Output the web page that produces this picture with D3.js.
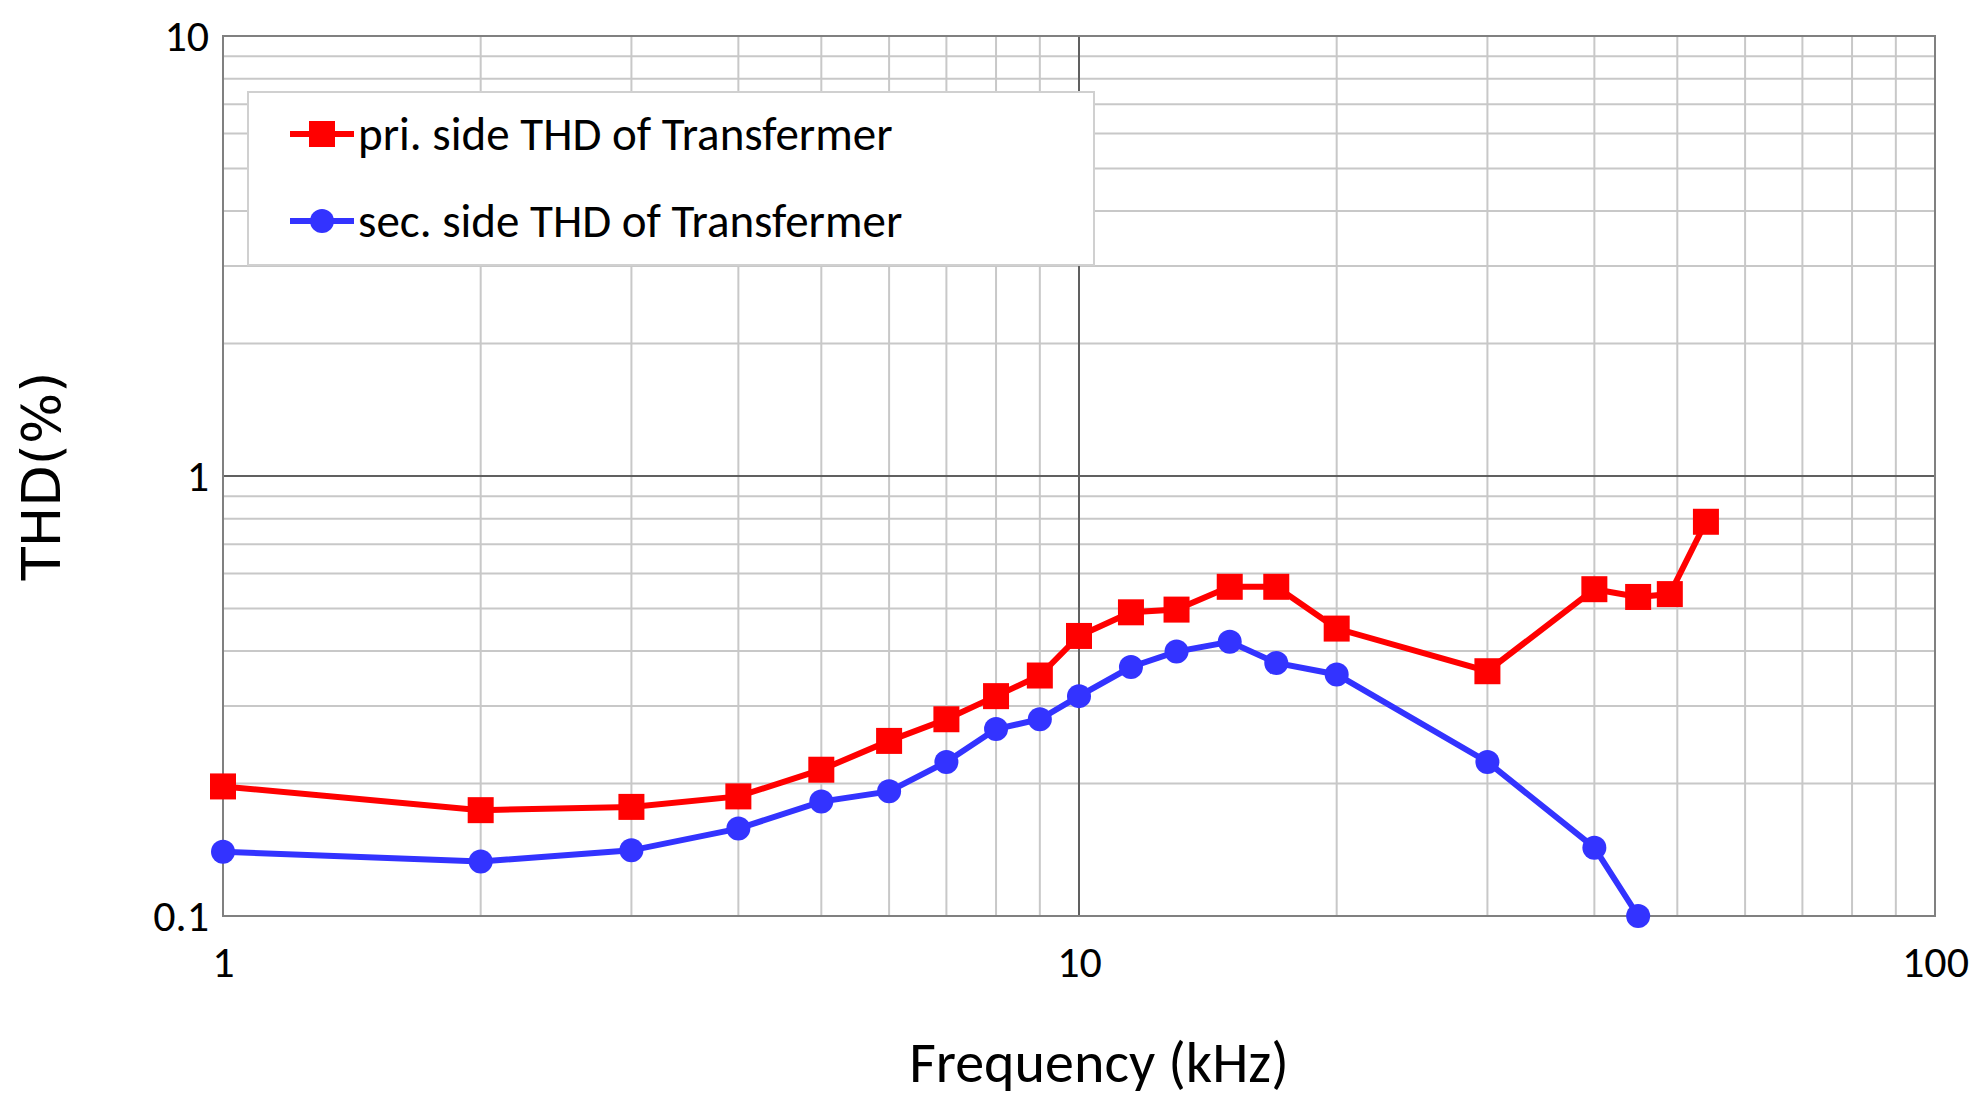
<!DOCTYPE html>
<html><head><meta charset="utf-8">
<script src="https://cdn.jsdelivr.net/npm/d3@7"></script>
<style>body{margin:0;background:#fff}text{font-family:Calibri,Carlito,"Open Sans",sans-serif}</style>
</head><body>
<svg id="chart" width="1984" height="1115"></svg>
<script>
const freqPri = [1, 2, 3, 4, 5, 6, 7, 8, 9, 10, 11.5, 13, 15, 17, 20, 30, 40, 45, 49, 54];
const thdPri = [0.197, 0.174, 0.177, 0.187, 0.215, 0.25, 0.28, 0.316, 0.352, 0.433, 0.49, 0.497, 0.56, 0.56, 0.45, 0.36, 0.553, 0.531, 0.539, 0.787];
const freqSec = [1, 2, 3, 4, 5, 6, 7, 8, 9, 10, 11.5, 13, 15, 17, 20, 30, 40, 45];
const thdSec = [0.14, 0.133, 0.141, 0.158, 0.182, 0.192, 0.224, 0.266, 0.28, 0.316, 0.368, 0.399, 0.42, 0.376, 0.354, 0.224, 0.143, 0.1];
const xTicks = [1, 10, 100];
const yTicks = [0.1, 1, 10];
const seriesNames = ["pri. side THD of Transfermer", "sec. side THD of Transfermer"];

const svg = d3.select("#chart");
const plotLeft = 223, plotRight = 1935, plotTop = 36, plotBottom = 916;
const x = d3.scaleLog().domain([1, 100]).range([plotLeft, plotRight]);
const y = d3.scaleLog().domain([0.1, 10]).range([plotBottom, plotTop]);

// minor grid
const minorX = [], minorY = [];
[1, 10].forEach(d => { for (let k = 2; k <= 9; k++) minorX.push(d * k); });
[0.1, 1].forEach(d => { for (let k = 2; k <= 9; k++) minorY.push(d * k); });
svg.append("g").selectAll("line").data(minorX).enter().append("line")
    .attr("x1", d => x(d)).attr("x2", d => x(d)).attr("y1", plotTop).attr("y2", plotBottom)
    .attr("stroke", "#c8c8c8").attr("stroke-width", 2);
svg.append("g").selectAll("line").data(minorY).enter().append("line")
    .attr("x1", plotLeft).attr("x2", plotRight).attr("y1", d => y(d)).attr("y2", d => y(d))
    .attr("stroke", "#c8c8c8").attr("stroke-width", 2);
// major grid
svg.append("g").selectAll("line").data(xTicks).enter().append("line")
    .attr("x1", d => x(d)).attr("x2", d => x(d)).attr("y1", plotTop).attr("y2", plotBottom)
    .attr("stroke", "#606060").attr("stroke-width", 2);
svg.append("g").selectAll("line").data(yTicks).enter().append("line")
    .attr("x1", plotLeft).attr("x2", plotRight).attr("y1", d => y(d)).attr("y2", d => y(d))
    .attr("stroke", "#606060").attr("stroke-width", 2);
svg.append("rect").attr("x", plotLeft).attr("y", plotTop).attr("width", plotRight - plotLeft).attr("height", plotBottom - plotTop)
    .attr("fill", "none").attr("stroke", "#808080").attr("stroke-width", 2);

// axes labels
const xAxis = d3.axisBottom(x).tickValues(xTicks).tickFormat(d3.format("")).tickSize(0).tickPadding(30);
const gx = svg.append("g").attr("transform", "translate(0," + plotBottom + ")").call(xAxis);
const yAxis = d3.axisLeft(y).tickValues(yTicks).tickFormat(d => String(d)).tickSize(0).tickPadding(14);
const gy = svg.append("g").attr("transform", "translate(" + plotLeft + ",0)").call(yAxis);
[gx, gy].forEach(g => {
    g.select(".domain").remove();
    g.selectAll("text").attr("font-size", 44).attr("fill", "#000")
        .style("font-family", "Calibri,Carlito,'Open Sans',sans-serif");
});

svg.append("text").attr("x", (plotLeft + plotRight) / 2 + 20).attr("y", 1082).attr("text-anchor", "middle")
    .attr("font-size", 58).text("Frequency (kHz)");
svg.append("text").attr("transform", "translate(60," + (plotTop + plotBottom) / 2 + ") rotate(-90)")
    .attr("text-anchor", "middle").attr("font-size", 54).style("font-family", "'DejaVu Sans',sans-serif")
    .text("THD(%)");

// series
const series = [
    { xs: freqPri, ys: thdPri, color: "#ff0000", shape: "square" },
    { xs: freqSec, ys: thdSec, color: "#3333ff", shape: "circle" }
];
const line = d3.line().x(d => x(d[0])).y(d => y(d[1]));
series.forEach(s => {
    const pts = s.xs.map((f, i) => [f, s.ys[i]]);
    svg.append("path").datum(pts).attr("d", line).attr("fill", "none")
        .attr("stroke", s.color).attr("stroke-width", 6);
    if (s.shape == "square") {
        svg.append("g").selectAll("rect").data(pts).enter().append("rect")
            .attr("x", d => x(d[0]) - 13).attr("y", d => y(d[1]) - 13)
            .attr("width", 26).attr("height", 26).attr("fill", s.color);
    } else {
        svg.append("g").selectAll("circle").data(pts).enter().append("circle")
            .attr("cx", d => x(d[0])).attr("cy", d => y(d[1])).attr("r", 12).attr("fill", s.color);
    }
});

// legend
const lg = svg.append("g").attr("transform", "translate(248,92)");
lg.append("rect").attr("width", 846).attr("height", 173).attr("fill", "#fff").attr("stroke", "#d0d0d0").attr("stroke-width", 2);
series.forEach((s, i) => {
    const cy = 42 + i * 87;
    lg.append("line").attr("x1", 42).attr("x2", 106).attr("y1", cy).attr("y2", cy)
        .attr("stroke", s.color).attr("stroke-width", 6);
    if (s.shape == "square") {
        lg.append("rect").attr("x", 61).attr("y", cy - 13).attr("width", 26).attr("height", 26).attr("fill", s.color);
    } else {
        lg.append("circle").attr("cx", 74).attr("cy", cy).attr("r", 12).attr("fill", s.color);
    }
    lg.append("text").attr("x", 110).attr("y", cy + 16).attr("font-size", 47).text(seriesNames[i]);
});
</script>
</body></html>
